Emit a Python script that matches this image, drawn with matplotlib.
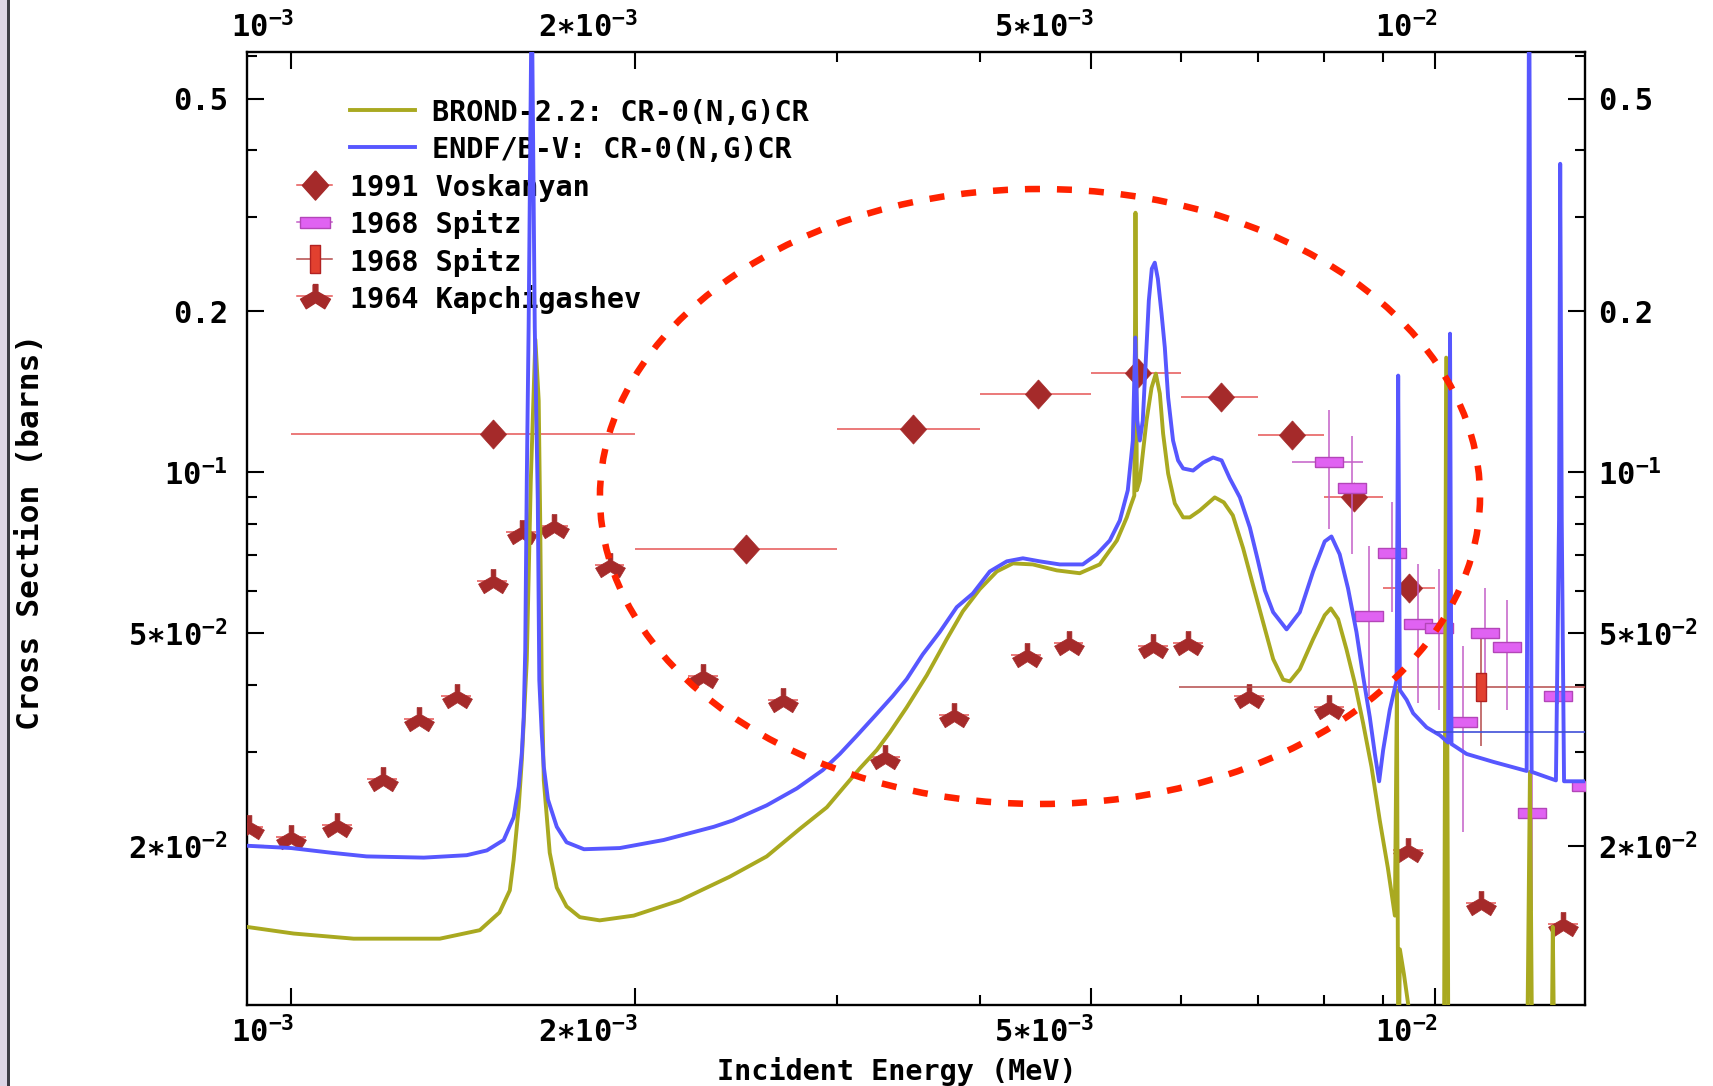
import numpy as np
import matplotlib
matplotlib.use('Agg')
import matplotlib.pyplot as plt
import matplotlib.transforms as mtransforms
from matplotlib.patches import Ellipse, Rectangle
from matplotlib.ticker import NullFormatter

# Cr-0(n,g) capture cross section, energy in MeV, cross section in barns

# BROND-2.2 evaluation
brond_e = [9.14e-4, 1.005e-3, 1.134e-3, 1.349e-3, 1.462e-3, 1.521e-3, 1.553e-3, 1.565e-3, 1.581e-3, 1.591e-3,
           1.607e-3, 1.620e-3, 1.635e-3, 1.646e-3, 1.651e-3, 1.656e-3, 1.663e-3, 1.683e-3, 1.707e-3, 1.741e-3,
           1.788e-3, 1.861e-3, 1.993e-3, 2.187e-3, 2.418e-3, 2.605e-3, 2.784e-3, 2.940e-3, 3.036e-3, 3.142e-3,
           3.251e-3, 3.338e-3, 3.453e-3, 3.596e-3, 3.743e-3, 3.866e-3, 4.000e-3, 4.140e-3, 4.276e-3, 4.451e-3,
           4.671e-3, 4.892e-3, 5.093e-3, 5.272e-3, 5.378e-3, 5.422e-3, 5.460e-3, 5.473e-3, 5.488e-3, 5.521e-3,
           5.596e-3, 5.653e-3, 5.702e-3, 5.748e-3, 5.786e-3, 5.845e-3, 5.924e-3, 6.024e-3, 6.106e-3, 6.230e-3,
           6.420e-3, 6.538e-3, 6.658e-3, 6.798e-3, 6.935e-3, 7.076e-3, 7.221e-3, 7.368e-3, 7.468e-3, 7.619e-3,
           7.826e-3, 8.011e-3, 8.110e-3, 8.230e-3, 8.370e-3, 8.511e-3, 8.655e-3, 8.802e-3, 8.950e-3, 9.096e-3,
           9.226e-3, 9.264e-3, 9.292e-3, 9.320e-3, 9.396e-3, 9.477e-3, 9.703e-3, 1.018e-2, 1.023e-2, 1.028e-2,
           1.202e-2, 1.211e-2, 1.218e-2, 1.263e-2, 1.268e-2, 1.274e-2, 1.353e-2]
brond_xs = [0.0141, 0.0137, 0.0134, 0.0134, 0.0139, 0.0150, 0.0165, 0.0188, 0.0236, 0.0289,
            0.0445, 0.0965, 0.1770, 0.1361, 0.0812, 0.0408, 0.0265, 0.0194, 0.0167, 0.0154,
            0.0147, 0.0145, 0.0148, 0.0158, 0.0175, 0.0191, 0.0215, 0.0236, 0.0256, 0.0279,
            0.0302, 0.0326, 0.0363, 0.0417, 0.0487, 0.0549, 0.0604, 0.0652, 0.0675, 0.0672,
            0.0655, 0.0647, 0.0672, 0.0745, 0.0823, 0.0867, 0.0904, 0.3058, 0.0925, 0.0965,
            0.1249, 0.1439, 0.1529, 0.1403, 0.1181, 0.0994, 0.0874, 0.0823, 0.0823, 0.0848,
            0.0897, 0.0878, 0.0830, 0.0720, 0.0614, 0.0524, 0.0447, 0.0409, 0.0406, 0.0428,
            0.0487, 0.0540, 0.0556, 0.0531, 0.0466, 0.0403, 0.0339, 0.0281, 0.0223, 0.0182,
            0.0148, 0.0391, 0.0067, 0.0128, 0.0115, 0.0101, 0.0073, 0.0054, 0.1638, 0.0054,
            0.0054, 0.0275, 0.0054, 0.0054, 0.0141, 0.0054, 0.0054]

# ENDF/B-V evaluation
endf_e = [9.14e-4, 1.000e-3, 1.085e-3, 1.164e-3, 1.306e-3, 1.424e-3, 1.483e-3, 1.534e-3, 1.565e-3, 1.581e-3,
          1.591e-3, 1.597e-3, 1.602e-3, 1.607e-3, 1.613e-3, 1.623e-3, 1.633e-3, 1.643e-3, 1.648e-3, 1.656e-3,
          1.663e-3, 1.677e-3, 1.707e-3, 1.741e-3, 1.803e-3, 1.938e-3, 2.117e-3, 2.342e-3, 2.433e-3, 2.605e-3,
          2.768e-3, 2.916e-3, 3.018e-3, 3.122e-3, 3.251e-3, 3.357e-3, 3.453e-3, 3.566e-3, 3.690e-3, 3.819e-3,
          3.945e-3, 4.082e-3, 4.224e-3, 4.363e-3, 4.514e-3, 4.699e-3, 4.922e-3, 5.063e-3, 5.197e-3, 5.303e-3,
          5.389e-3, 5.444e-3, 5.471e-3, 5.493e-3, 5.521e-3, 5.554e-3, 5.588e-3, 5.622e-3, 5.656e-3, 5.690e-3,
          5.725e-3, 5.768e-3, 5.806e-3, 5.845e-3, 5.903e-3, 5.963e-3, 6.024e-3, 6.146e-3, 6.271e-3, 6.399e-3,
          6.509e-3, 6.618e-3, 6.753e-3, 6.890e-3, 7.002e-3, 7.101e-3, 7.221e-3, 7.419e-3, 7.619e-3, 7.826e-3,
          8.011e-3, 8.120e-3, 8.256e-3, 8.396e-3, 8.540e-3, 8.655e-3, 8.772e-3, 8.862e-3, 8.939e-3, 9.011e-3,
          9.132e-3, 9.258e-3, 9.288e-3, 9.320e-3, 9.447e-3, 9.572e-3, 9.835e-3, 1.010e-2, 1.027e-2, 1.031e-2,
          1.034e-2, 1.066e-2, 1.125e-2, 1.203e-2, 1.209e-2, 1.215e-2, 1.276e-2, 1.284e-2, 1.287e-2, 1.291e-2,
          1.297e-2, 1.353e-2]
endf_xs = [0.0200, 0.0198, 0.0194, 0.0191, 0.0190, 0.0192, 0.0196, 0.0205, 0.0226, 0.0258,
           0.0298, 0.0348, 0.0464, 0.0965, 0.187, 0.83, 0.187, 0.0886, 0.0408, 0.0325,
           0.0281, 0.0244, 0.0217, 0.0203, 0.0197, 0.0198, 0.0205, 0.0217, 0.0223, 0.0238,
           0.0256, 0.0277, 0.0297, 0.0321, 0.0353, 0.0381, 0.0410, 0.0456, 0.0502, 0.0559,
           0.0593, 0.0652, 0.0681, 0.0690, 0.0681, 0.0672, 0.0672, 0.0702, 0.0745, 0.0812,
           0.0925, 0.1146, 0.1786, 0.1249, 0.1146, 0.1249, 0.1618, 0.2094, 0.2403, 0.2466,
           0.2301, 0.1980, 0.1711, 0.1379, 0.1146, 0.1052, 0.1016, 0.1007, 0.1042, 0.1065,
           0.1052, 0.0973, 0.0897, 0.0788, 0.0684, 0.0601, 0.0547, 0.0508, 0.0547, 0.0652,
           0.0742, 0.0758, 0.0702, 0.0606, 0.0502, 0.0415, 0.0348, 0.0297, 0.0264, 0.0302,
           0.0359, 0.0408, 0.1516, 0.0391, 0.0375, 0.0354, 0.0333, 0.0322, 0.0312, 0.1816,
           0.0310, 0.0297, 0.0287, 0.0276, 0.986, 0.0275, 0.0265, 0.0816, 0.3776, 0.0816,
           0.0264, 0.0264]
# ENDF/B-V unresolved part above 10 keV
endf_urr_e = [1.0e-2, 1.353e-2]
endf_urr_xs = [0.0327, 0.0327]

# 1991 Voskanyan
vosk_e = [1.5e-3, 2.5e-3, 3.5e-3, 4.5e-3, 5.5e-3, 6.5e-3, 7.5e-3, 8.5e-3, 9.5e-3]
vosk_de = [0.5e-3] * 9
vosk_xs = [0.1177, 0.0719, 0.1204, 0.1401, 0.1531, 0.1385, 0.1176, 0.0898, 0.0608]

# 1968 Spitz (averaged points)
spitz_e = [8.08e-3, 8.47e-3, 8.76e-3, 9.18e-3, 9.66e-3, 1.008e-2, 1.059e-2, 1.107e-2, 1.156e-2, 1.217e-2,
           1.282e-2, 1.355e-2]
spitz_de = [0.58e-3, 0, 0, 0, 0, 0, 0, 0, 0, 0, 0, 0]
spitz_xs = [0.1044, 0.0935, 0.0537, 0.0706, 0.0520, 0.0510, 0.0341, 0.0500, 0.0471, 0.0230, 0.0381, 0.0259]
spitz_lo = [0.0784, 0.0702, 0.0381, 0.0547, 0.0370, 0.0359, 0.0212, 0.0413, 0.0359, 0.0151, 0.0368, 0.0250]
spitz_hi = [0.1308, 0.1171, 0.0728, 0.0880, 0.0672, 0.0658, 0.0472, 0.0606, 0.0576, 0.0312, 0.0395, 0.0268]

# 1968 Spitz (wide bin)
spitz2_e = [1.097e-2]
spitz2_de = [5.0e-3]
spitz2_xs = [0.0396]
spitz2_lo = [0.0308]
spitz2_hi = [0.0487]

# 1964 Kapchigashev
kap_e = [9.18e-4, 1.000e-3, 1.097e-3, 1.202e-3, 1.294e-3, 1.395e-3, 1.500e-3, 1.590e-3, 1.696e-3, 1.899e-3,
         2.293e-3, 2.692e-3, 3.308e-3, 3.798e-3, 4.395e-3, 4.785e-3, 5.671e-3, 6.085e-3, 6.876e-3, 8.078e-3,
         9.480e-3, 1.097e-2, 1.295e-2]
kap_xs = [0.0217, 0.0208, 0.0219, 0.0267, 0.0346, 0.0382, 0.0625, 0.0772, 0.0793, 0.0671,
          0.0415, 0.0375, 0.0293, 0.0352, 0.0454, 0.0479, 0.0472, 0.0479, 0.0382, 0.0363,
          0.0196, 0.0156, 0.0143]

x_major = [1e-3, 2e-3, 5e-3, 1e-2]
x_major_labels = [r'$10^{-3}$', r'$2{\ast}10^{-3}$', r'$5{\ast}10^{-3}$', r'$10^{-2}$']
x_minor = [3e-3, 4e-3, 6e-3, 7e-3, 8e-3, 9e-3]
y_major = [0.5, 0.2, 0.1, 0.05, 0.02]
y_major_labels = ['0.5', '0.2', r'$10^{-1}$', r'$5{\ast}10^{-2}$', r'$2{\ast}10^{-2}$']
y_minor = [0.6, 0.4, 0.3, 0.09, 0.08, 0.07, 0.06, 0.04, 0.03]

legend_names = ['BROND-2.2: CR-0(N,G)CR', 'ENDF/B-V: CR-0(N,G)CR', '1991 Voskanyan',
                '1968 Spitz', '1968 Spitz', '1964 Kapchigashev']

# colours
OLIVE = '#a9a920'
BLUE = '#5757ff'
BROWN = '#a52a2a'
SALMON = '#e65555'
VIOLET = '#e062f2'
VIOLET_EDGE = '#b346b8'
VIOLET_BAR = '#c45fc8'
RED_BOX = '#e2402f'
RED_EDGE = '#b22222'
RED_BAR = '#b44a4a'

# marker shapes
diamond_marker = [(0, 1), (0.9, 0), (0, -1), (-0.9, 0), (0, 1)]
hbox_marker = [(-1, -0.36), (1, -0.36), (1, 0.36), (-1, 0.36), (-1, -0.36)]
vbox_marker = [(-0.34, -1), (0.34, -1), (0.34, 1), (-0.34, 1), (-0.34, -1)]
tri_marker = [(-0.16, 0.8), (0.16, 0.8), (0.16, 0.3), (1.0, -0.18), (0.62, -0.82), (0.0, -0.42),
              (-0.62, -0.82), (-1.0, -0.18), (-0.16, 0.3), (-0.16, 0.8)]

plt.rcParams['font.family'] = ['DejaVu Sans Mono', 'DejaVu Sans']
plt.rcParams['font.weight'] = 'bold'
plt.rcParams['mathtext.fontset'] = 'custom'
plt.rcParams['mathtext.rm'] = 'DejaVu Sans Mono:bold'
plt.rcParams['mathtext.it'] = 'DejaVu Sans Mono:bold'
plt.rcParams['mathtext.bf'] = 'DejaVu Sans Mono:bold'
plt.rcParams['mathtext.default'] = 'rm'

fig = plt.figure(figsize=(17.13, 10.86), dpi=100)
ax = fig.add_axes([0.1439, 0.0746, 0.7814, 0.8778])
ax.set_xscale('log')
ax.set_yscale('log')
ax.set_xlim(9.14e-4, 1.353e-2)
ax.set_ylim(0.01007, 0.612)

# experimental points
ax.errorbar(kap_e, kap_xs, xerr=np.array(kap_e) * 0.03, fmt='none', ecolor=SALMON,
            elinewidth=1.1, capsize=0, zorder=3)
ax.plot(kap_e, kap_xs, linestyle='none', marker=tri_marker, ms=21.5, mfc=BROWN, mec=BROWN,
        mew=0.5, zorder=3.5)

ax.errorbar(vosk_e, vosk_xs, xerr=vosk_de, fmt='none', ecolor=SALMON, elinewidth=1.1,
            capsize=0, zorder=3)
ax.plot(vosk_e, vosk_xs, linestyle='none', marker=diamond_marker, ms=21, mfc=BROWN, mec=BROWN,
        mew=0.5, zorder=3.5)

s2_yerr = [np.array(spitz2_xs) - np.array(spitz2_lo), np.array(spitz2_hi) - np.array(spitz2_xs)]
ax.errorbar(spitz2_e, spitz2_xs, xerr=spitz2_de, yerr=s2_yerr, fmt='none', ecolor=RED_BAR,
            elinewidth=1.1, capsize=0, zorder=4)
ax.plot(spitz2_e, spitz2_xs, linestyle='none', marker=vbox_marker, ms=20.7, mfc=RED_BOX,
        mec=RED_EDGE, mew=1.0, zorder=4.5)

s_yerr = [np.array(spitz_xs) - np.array(spitz_lo), np.array(spitz_hi) - np.array(spitz_xs)]
ax.errorbar(spitz_e, spitz_xs, xerr=spitz_de, yerr=s_yerr, fmt='none', ecolor=VIOLET_BAR,
            elinewidth=1.1, capsize=0, zorder=4)
ax.plot(spitz_e, spitz_xs, linestyle='none', marker=hbox_marker, ms=20.4, mfc=VIOLET,
        mec=VIOLET_EDGE, mew=1.0, zorder=4.5)

# evaluations
ax.plot(brond_e, brond_xs, color=OLIVE, lw=2.8, zorder=6)
ax.plot(endf_e, endf_xs, color=BLUE, lw=2.8, zorder=6.5)
ax.plot(endf_urr_e, endf_urr_xs, color='#3f4fd8', lw=1.2, zorder=6.5)

# highlighted region
ax.add_patch(Ellipse((0.5928, 0.5334), 0.6575, 0.6451, transform=ax.transAxes, fill=False,
                     edgecolor='#ff2200', lw=4.7, linestyle=(0, (2.3, 2.6)), zorder=8))

# legend drawn by hand: curves first, then experiments
rows = [0.9385 - 0.039 * k for k in range(6)]
ax.plot([0.0770, 0.1260], [rows[0]] * 2, color=OLIVE, lw=2.8, transform=ax.transAxes, clip_on=False)
ax.plot([0.0770, 0.1260], [rows[1]] * 2, color=BLUE, lw=2.8, transform=ax.transAxes, clip_on=False)
for k in range(2):
    ax.text(0.1386, rows[k], legend_names[k], transform=ax.transAxes, fontsize=20.5,
            ha='left', va='center_baseline')

handles = [(SALMON, diamond_marker, 21, BROWN, BROWN),
           (VIOLET_BAR, hbox_marker, 22, VIOLET, VIOLET_EDGE),
           (RED_BAR, vbox_marker, 20.7, RED_BOX, RED_EDGE),
           (SALMON, tri_marker, 21.5, BROWN, BROWN)]
for k, (lc, mk, ms, fc, ec) in enumerate(handles):
    y = rows[k + 2]
    ax.plot([0.0377, 0.0639], [y, y], color=lc, lw=1.1, transform=ax.transAxes, clip_on=False,
            zorder=9)
    ax.plot([0.0509], [y], marker=mk, ms=ms, mfc=fc, mec=ec, mew=1.0, linestyle='none',
            transform=ax.transAxes, clip_on=False, zorder=9.5)
    ax.text(0.0773, y, legend_names[k + 2], transform=ax.transAxes, fontsize=20.5,
            ha='left', va='center_baseline')

# axes, ticks and labels
for sp in ax.spines.values():
    sp.set_linewidth(1.7)
ax.set_xticks(x_major, x_major_labels)
ax.set_xticks(x_minor, minor=True)
ax.set_yticks(y_major, y_major_labels)
ax.set_yticks(y_minor, minor=True)
ax.xaxis.set_minor_formatter(NullFormatter())
ax.yaxis.set_minor_formatter(NullFormatter())
ax.tick_params(which='both', direction='in', top=True, right=True, width=1.5)
ax.tick_params(which='major', length=12.5, labelsize=22)
ax.tick_params(which='minor', length=7.5)
ax.tick_params(axis='x', which='major', pad=7.5, labeltop=True)
ax.tick_params(axis='y', which='major', pad=13.5, labelright=True)

shift = lambda dx, dy: mtransforms.ScaledTranslation(dx / 72, dy / 72, fig.dpi_scale_trans)
for tick in ax.xaxis.get_major_ticks():
    tick.label1.set_ha('right')
    tick.label2.set_ha('right')
    tick.label1.set_transform(tick.label1.get_transform() + shift(2.2, 0))
    tick.label2.set_transform(tick.label2.get_transform() + shift(2.2, -1.5))
for tick in ax.yaxis.get_major_ticks():
    tick.label2.set_transform(tick.label2.get_transform() + shift(-4.0, 0))

fig.text(897 / 1713, 1 - 1072 / 1086, 'Incident Energy (MeV)', ha='center', va='center',
         fontsize=20.5)
fig.text(31 / 1713, 1 - 532 / 1086, 'Cross Section (barns)', rotation=90, ha='center',
         va='center', fontsize=22.5)

# window frame strip on the left
fig.patches.append(Rectangle((0, 0), 7 / 1713, 1, transform=fig.transFigure,
                             facecolor='#dcd5e6', edgecolor='none'))
fig.patches.append(Rectangle((7 / 1713, 0), 2.5 / 1713, 1, transform=fig.transFigure,
                             facecolor='#3c3c46', edgecolor='none'))

fig.savefig('out.png', dpi=100)
plt.close(fig)
